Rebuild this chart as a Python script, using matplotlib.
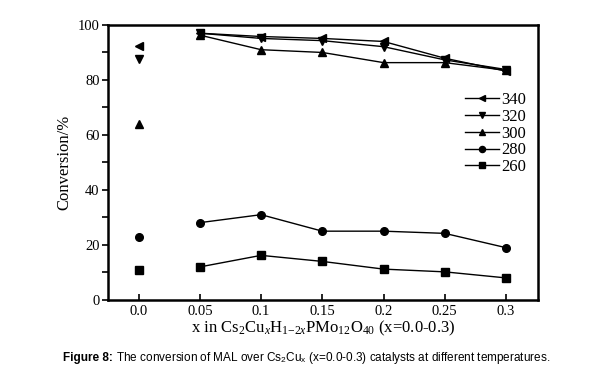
import numpy as np
import matplotlib.pyplot as plt

plt.rcParams['font.family'] = ['Liberation Serif', 'DejaVu Serif']
plt.rcParams['mathtext.fontset'] = 'custom'
plt.rcParams['mathtext.rm'] = 'Liberation Serif'
plt.rcParams['mathtext.it'] = 'Liberation Serif:italic'
plt.rcParams['mathtext.sf'] = 'Liberation Sans'

# категории по оси x (равные интервалы)
x_labels = ['0.0', '0.05', '0.1', '0.15', '0.2', '0.25', '0.3']
temps = ['340', '320', '300', '280', '260']
markers = ['<', 'v', '^', 'o', 's']

conv_340 = [92.5, 97.0, 95.8, 95.1, 94.0, 87.9, 83.2]
conv_320 = [87.5, 97.0, 95.1, 94.3, 92.1, 87.3, 83.8]
conv_300 = [64.0, 96.3, 91.0, 90.0, 86.3, 86.3, 83.5]
conv_280 = [22.8, 28.1, 31.0, 25.0, 25.0, 24.2, 19.0]
conv_260 = [10.7, 12.0, 16.2, 14.0, 11.2, 10.2, 8.0]
series = [conv_340, conv_320, conv_300, conv_280, conv_260]

pos = np.arange(len(x_labels))

fig = plt.figure(figsize=(6.07, 3.84), dpi=100)
ax = fig.add_axes([0.178, 0.219, 0.708, 0.716])

for lab, m, y in zip(temps, markers, series):
    # точка x=0.0 отдельно, без линии
    ax.plot(pos[0], y[0], m, color='black', ms=5.5)
    ax.plot(pos[1:], y[1:], '-', marker=m, color='black', ms=5.5, lw=1, label=lab)

ax.set_xlim(-0.5, 6.52)
ax.set_ylim(0, 100)
ax.set_xticks(pos)
ax.set_xticklabels(x_labels)
ax.set_yticks(np.arange(0, 101, 20))
ax.set_yticks(np.arange(10, 100, 20), minor=True)
ax.tick_params(axis='x', direction='in', length=4, width=1.2, labelsize=10.5, pad=4)
ax.tick_params(axis='y', which='both', direction='out', length=4, width=1.2, labelsize=10.5, pad=2)
for s in ax.spines.values():
    s.set_linewidth(1.8)

ax.set_ylabel('Conversion/%', fontsize=12, labelpad=4)
ax.set_xlabel(r'x in Cs$_2$Cu$_x$H$_{1\mathrm{-}2x}$PMo$_{12}$O$_{40}$ (x=0.0-0.3)',
              fontsize=12, labelpad=0)

ax.legend(loc='center right', bbox_to_anchor=(1.0, 0.605), frameon=False,
          fontsize=12, handlelength=2.0, handletextpad=0.15, markerscale=0.8,
          labelspacing=0.05, borderaxespad=0.3)

cap_y = 1 - 361 / 384
t1 = fig.text(63 / 607, cap_y, 'Figure 8:', fontsize=8.5, va='baseline',
              fontweight='bold', family='Liberation Sans')
fig.canvas.draw()
w = t1.get_window_extent().width / fig.bbox.width
fig.text(63 / 607 + w, cap_y,
         r' The conversion of MAL over Cs$_\mathsf{2}$Cu$_\mathsf{x}$ (x=0.0-0.3) catalysts at different temperatures.',
         fontsize=8.5, family='Liberation Sans', va='baseline')

fig.savefig('out.png', dpi=100)
